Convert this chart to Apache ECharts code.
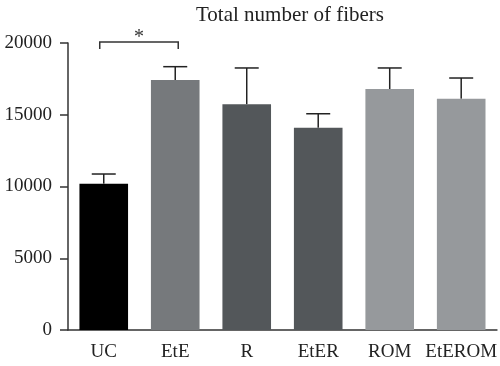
<!DOCTYPE html>
<html><head><meta charset="utf-8">
<script src="https://cdn.jsdelivr.net/npm/echarts@6/dist/echarts.min.js"></script>
<style>html,body{margin:0;padding:0;background:#fff}#c{width:500px;height:366px}</style>
</head><body><div id="c"></div>
<script>
const categories = ['UC', 'EtE', 'R', 'EtER', 'ROM', 'EtEROM'];
const means = [10200, 17420, 15730, 14100, 16790, 16120];
const errorTops = [10870, 18350, 18260, 15070, 18260, 17560];
const barColors = ['#000000', '#76797c', '#53575a', '#53575a', '#96999c', '#96999c'];
const yTicks = [0, 5000, 10000, 15000, 20000];
const bracket = {from: 0, to: 1, top: 20070, foot: 19580, label: '*'};

const font = '"Liberation Serif", "DejaVu Serif", serif';
const chart = echarts.init(document.getElementById('c'));
chart.setOption({
  animation: false,
  title: {
    text: 'Total number of fibers', left: 285, top: 0, textAlign: 'center',
    textStyle: {fontFamily: font, fontSize: 21, fontWeight: 'normal', color: '#222'}
  },
  grid: {left: 68, right: 2, top: 43, bottom: 36},
  xAxis: {
    type: 'category', data: categories,
    axisLine: {lineStyle: {color: '#333', width: 1.5}},
    axisTick: {alignWithLabel: true, length: 7, lineStyle: {color: '#333', width: 1.5}},
    axisLabel: {fontFamily: font, fontSize: 19, color: '#222', margin: 13, interval: 0}
  },
  yAxis: {
    type: 'value', min: yTicks[0], max: yTicks[yTicks.length - 1], interval: 5000,
    splitLine: {show: false},
    axisLine: {show: true, lineStyle: {color: '#333', width: 1.5}},
    axisTick: {show: true, length: 8, lineStyle: {color: '#333', width: 1.5}},
    axisLabel: {fontFamily: font, fontSize: 19, color: '#222', margin: 16, formatter: v => String(v)}
  },
  series: [
    {
      type: 'bar', barWidth: '68%',
      data: means.map((v, i) => ({value: v, itemStyle: {color: barColors[i]}})),
      z: 2
    },
    {
      type: 'custom', z: 1,
      data: means.map((v, i) => [i, v, errorTops[i]]),
      renderItem: function (params, api) {
        const b = api.coord([api.value(0), api.value(1)]);
        const t = api.coord([api.value(0), api.value(2)]);
        const hw = 12;
        return {type: 'group', children: [
          {type: 'line', shape: {x1: b[0], y1: b[1], x2: t[0], y2: t[1]}, style: {stroke: '#222', lineWidth: 1.5}},
          {type: 'line', shape: {x1: t[0] - hw, y1: t[1], x2: t[0] + hw, y2: t[1]}, style: {stroke: '#222', lineWidth: 1.5}}
        ]};
      }
    },
    {
      type: 'custom', z: 3,
      data: [[bracket.from, bracket.to, bracket.top, bracket.foot]],
      renderItem: function (params, api) {
        const a = api.coord([api.value(0), api.value(2)]);
        const b = api.coord([api.value(1), api.value(2)]);
        const af = api.coord([api.value(0), api.value(3)]);
        const x1 = a[0] - 4, x2 = b[0] + 3;
        return {type: 'group', children: [
          {type: 'polyline', shape: {points: [[x1, af[1]], [x1, a[1]], [x2, a[1]], [x2, af[1]]]}, style: {stroke: '#333', lineWidth: 1.5, fill: null}},
          {type: 'text', style: {text: bracket.label, x: (x1 + x2) / 2, y: a[1] - 4, align: 'center', verticalAlign: 'middle', fontFamily: font, fontSize: 20, fill: '#333'}}
        ]};
      }
    }
  ]
});
</script></body></html>
